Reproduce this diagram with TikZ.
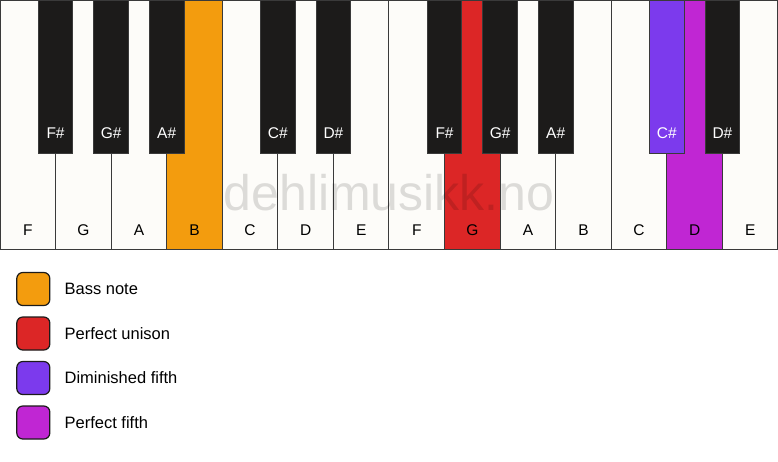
\documentclass[tikz,border=0pt]{standalone}
\usepackage{fontspec}
\setmainfont{Liberation Sans}
\usetikzlibrary{positioning}
\definecolor{ivory}{HTML}{FDFCF9}
\definecolor{keyblack}{HTML}{1C1B1A}
\definecolor{keyline}{HTML}{3A3A3A}
\definecolor{bassnote}{HTML}{F39C0E}
\definecolor{unison}{HTML}{DC2626}
\definecolor{dimfifth}{HTML}{7C3AED}
\definecolor{perffifth}{HTML}{C026D3}

\begin{document}
\begin{tikzpicture}[x=1pt,y=-1pt,node distance=44.5pt,
    whitekey/.style={draw=keyline,line width=1pt,anchor=north west,inner sep=0pt,outer sep=0pt,
        minimum width=55.57pt,minimum height=249.5pt},
    blackkey/.style={draw=keyline,line width=1pt,anchor=north,inner sep=0pt,outer sep=0pt,
        minimum width=34.7pt,minimum height=153pt},
    keylabel/.style={font=\fontsize{15.5}{15.5}\selectfont,inner sep=0pt},
    legendbox/.style={draw=keyblack,line width=1.2pt,rounded corners=6pt,minimum size=33pt,inner sep=0pt},
    legendtext/.style={font=\fontsize{16.5}{16.5}\selectfont,inner sep=0pt,anchor=west}]
        \useasboundingbox (0,0) rectangle (778,461);
        \fill[white] (0,0) rectangle (778,461);
        % white keys
        \foreach \n/\c [count=\i from 0] in {F/ivory,G/ivory,A/ivory,B/bassnote,C/ivory,D/ivory,E/ivory,
                F/ivory,G/unison,A/ivory,B/ivory,C/ivory,D/perffifth,E/ivory}{
            \node[whitekey,fill=\c] (w\i) at (\i*55.57,0) {};
            \node[keylabel] (lw\i) at ([yshift=19.5pt]w\i.south) {\n};
        }
        % black keys
        \foreach \b/\n/\c in {1/F\#/keyblack,2/G\#/keyblack,3/A\#/keyblack,5/C\#/keyblack,6/D\#/keyblack,
                8/F\#/keyblack,9/G\#/keyblack,10/A\#/keyblack,12/C\#/dimfifth,13/D\#/keyblack}{
            \node[blackkey,fill=\c] (b\b) at (\b*55.57,0) {};
            \node[keylabel,text=white] (lb\b) at ([yshift=20pt]b\b.south) {\n};
        }
        \node[font=\fontsize{50}{50}\selectfont,text=black,opacity=0.13,inner sep=0pt] (mark) at (389,193) {dehlimusikk.no};
        % legend
        \node[legendbox,fill=bassnote] (L1) at (33.3,289) {};
        \node[legendtext,right=14pt of L1] (T1) {Bass note};
        \node[legendbox,fill=unison,below of=L1] (L2) {};
        \node[legendtext,right=14pt of L2] (T2) {Perfect unison};
        \node[legendbox,fill=dimfifth,below of=L2] (L3) {};
        \node[legendtext,right=14pt of L3] (T3) {Diminished fifth};
        \node[legendbox,fill=perffifth,below of=L3] (L4) {};
        \node[legendtext,right=14pt of L4] (T4) {Perfect fifth};
    \end{tikzpicture}
\end{document}
